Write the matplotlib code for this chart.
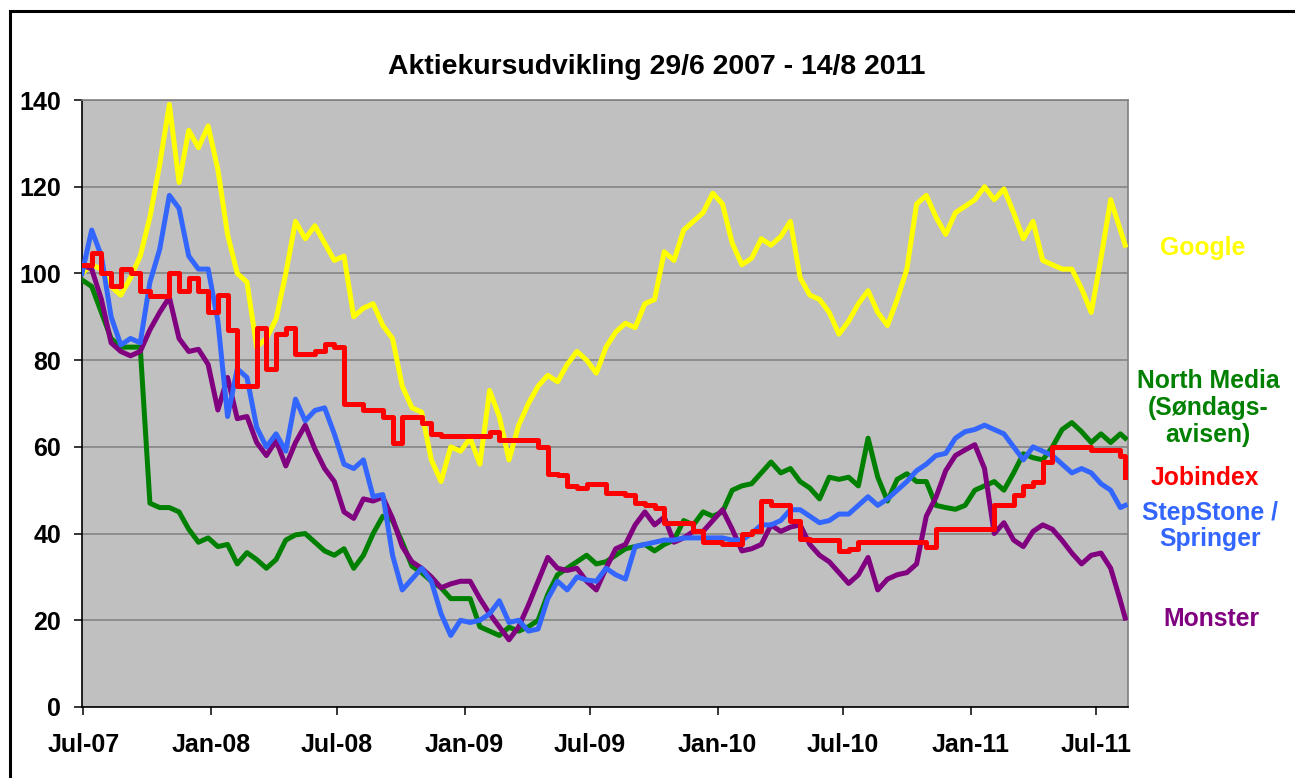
import matplotlib
matplotlib.use("Agg")
import matplotlib.pyplot as plt
import matplotlib.dates as mdates
import matplotlib.patches as patches
import pandas as pd

plt.rcParams['font.family'] = ['Liberation Sans', 'DejaVu Sans']
plt.rcParams['font.weight'] = 'bold'

# biweekly samples, 29/6 2007 -> 12/8 2011
dates = pd.date_range('2007-06-29', periods=108, freq='14D').append(pd.DatetimeIndex(['2011-08-12']))

google = [100, 102, 101, 97, 95, 99, 104, 113, 125, 139,
          121, 133, 129, 134, 124, 109, 100, 98, 83, 85,
          89.5, 100, 112, 108, 111, 107, 103, 104, 90, 92,
          93, 88, 85, 74, 69, 68, 57, 52, 60, 59,
          62, 56, 73, 67, 57, 65, 70, 74, 76.5, 75,
          79, 82, 80, 77, 83, 86.5, 88.5, 87.5, 93, 94,
          105, 103, 110, 112, 114, 118.5, 116, 107, 102, 103.5,
          108, 106.5, 108.5, 112, 99, 95, 94, 91, 86, 89,
          93, 96, 91, 88, 94, 101, 116, 118, 113, 109,
          114, 115.5, 117, 120, 117, 119.5, 114, 108, 112, 103,
          102, 101, 101, 96.5, 91, 103.5, 117, 110, 106.5]

north_media = [98.5, 97, 91, 85, 83, 83, 83, 47, 46, 46,
               45, 41, 38, 39, 37, 37.5, 33, 35.6, 34, 32,
               34, 38.5, 39.7, 40, 38, 36, 35, 36.5, 32, 35,
               40, 44, 43, 38, 32.5, 31, 29, 27.5, 25, 25,
               25, 18.5, 17.5, 16.5, 18.4, 17.5, 18.5, 20, 26, 30.5,
               32, 33.5, 35, 33, 33.5, 35, 36.5, 37, 37.5, 36,
               37.5, 38.5, 43, 42, 45, 44, 45, 50, 51, 51.5,
               54, 56.5, 54, 55, 52, 50.5, 48, 53, 52.5, 53,
               51, 62, 53, 47.5, 52.5, 53.8, 52, 52, 46.5, 46,
               45.6, 46.5, 50, 51, 52, 50, 54, 58.4, 57.5, 57,
               60, 64, 65.6, 63.5, 61, 63, 61, 63, 62]

jobindex = [102, 104.7, 100, 97, 101, 100, 96, 94.7, 94.7, 100,
            96, 99, 96, 91, 95, 87, 74, 74, 87.5, 78,
            86, 87.5, 81.5, 81.5, 82, 83.8, 83, 70, 70, 68.5,
            68.4, 67, 61, 67, 67, 65.6, 63, 62.5, 62.5, 62.5,
            62.5, 62.5, 63.5, 61.5, 61.5, 61.5, 61.5, 60, 53.8, 53.4,
            51, 50.6, 51.5, 51.5, 49.3, 49.3, 49, 47, 46.5, 46,
            42.5, 42.5, 42.5, 40.6, 38, 38, 37.5, 37.5, 40, 40.6,
            47.5, 46.5, 46.5, 43, 38.8, 38.5, 38.5, 38.5, 36, 36.5,
            38, 38, 38, 38, 38, 38, 38, 37, 41, 41,
            41, 41, 41, 41, 46.5, 46.5, 49, 51, 52, 56.5,
            60, 60, 60, 60, 59.3, 59.3, 59.3, 58, 53]

stepstone = [100, 110, 104, 90, 83.5, 85, 84, 98, 105.5, 118,
             115, 104, 101, 101, 89, 67, 78, 76, 64.5, 60,
             63, 59, 71, 66, 68.4, 69, 63, 56, 55, 57,
             48.5, 49, 35, 27, 29.5, 32, 29, 21.5, 16.5, 20,
             19.5, 20, 21.5, 24.5, 19.5, 20, 17.5, 18, 25, 29,
             27, 30, 29.3, 29, 32, 30.5, 29.5, 37, 37.5, 38,
             38.5, 38.5, 39, 39, 39, 39, 39, 38.5, 38.5, 40,
             42, 42, 43, 45.5, 45.5, 44, 42.5, 43, 44.5, 44.5,
             46.5, 48.5, 46.5, 48, 50, 52, 54.5, 56, 58, 58.5,
             62, 63.5, 64, 65, 64, 63, 60, 57, 60, 59,
             58, 56, 54, 55, 54, 51.5, 50, 46, 46.5]

monster = [102, 101, 94, 84, 82, 81, 82, 87, 91, 94.5,
           85, 82, 82.5, 79, 68.5, 76, 66.5, 67, 61, 58,
           61.5, 55.6, 61, 65, 59.5, 55, 52, 45, 43.5, 48,
           47.5, 48.4, 43.5, 37, 33.5, 32, 30, 27.5, 28.4, 29,
           29, 25, 21.5, 18.5, 15.5, 18.5, 23.5, 29, 34.5, 32,
           31.5, 32, 29, 27, 32, 36.5, 37.5, 42, 45, 42,
           43.8, 38, 39, 40.5, 40.5, 43, 45.5, 41, 36, 36.5,
           37.5, 42, 40.5, 41.5, 42, 37.5, 35, 33.5, 31, 28.5,
           30.5, 34.5, 27, 29.5, 30.5, 31, 33, 44, 48.4, 54.5,
           58, 59.3, 60.5, 55, 40, 42.5, 38.5, 37, 40.5, 42,
           41, 38.4, 35.5, 33, 35, 35.5, 32, 24.5, 20.5]

title = "Aktiekursudvikling 29/6 2007 - 14/8 2011"
tick_dates = pd.date_range('2007-07-01', '2011-07-01', freq='6MS')

fig = plt.figure(figsize=(12.95, 7.78), dpi=100)
ax = fig.add_axes([82/1295, 71/778, 1046/1295, 607/778])
ax.set_facecolor('#C0C0C0')

lw = 3.6
ax.plot(dates, google, color='#FFFF00', lw=lw, zorder=3)
ax.plot(dates, north_media, color='#008000', lw=lw, zorder=4)
ax.plot(dates, monster, color='#800080', lw=lw, zorder=5)
ax.plot(dates, stepstone, color='#3366FF', lw=lw, zorder=6)
ax.plot(dates, jobindex, color='#FF0000', lw=lw, zorder=7, drawstyle='steps-post')

ax.set_ylim(0, 140)
ax.set_yticks(range(0, 141, 20))
ax.set_xlim(pd.Timestamp('2007-06-29'), pd.Timestamp('2011-08-16'))
ax.set_xticks(tick_dates)
ax.xaxis.set_major_formatter(mdates.DateFormatter('%b-%y'))
ax.grid(axis='y', color='#808080', lw=1.1, zorder=1)
ax.set_axisbelow(True)

ax.tick_params(axis='both', direction='out', labelsize=18, colors='black', width=1.1)
ax.tick_params(axis='y', length=6, pad=9)
ax.tick_params(axis='x', length=6, pad=13)
for s in ['top', 'right']:
    ax.spines[s].set_color('#808080')
    ax.spines[s].set_linewidth(1.2)
for s in ['left', 'bottom']:
    ax.spines[s].set_color('black')
    ax.spines[s].set_linewidth(1.2)

fig.text(657/1295, 1 - 67/778, title, ha='center', va='center', fontsize=20.4, fontweight='bold')

# series names to the right of the plot
lx = 1208/1295
fig.text(1203/1295, 1 - 248/778, "Google", color='#FFFF00', ha='center', va='center', fontsize=17.8)
fig.text(lx, 1 - 408/778, "North Media\n(Søndags-\navisen)", color='#008000', ha='center', va='center',
         fontsize=17.8, linespacing=1.15)
fig.text(1205/1295, 1 - 478/778, "Jobindex", color='#FF0000', ha='center', va='center', fontsize=17.8)
fig.text(1210/1295, 1 - 526/778, "StepStone /\nSpringer", color='#3366FF', ha='center', va='center',
         fontsize=17.8, linespacing=1.15)
fig.text(1211/1295, 1 - 619/778, "Monster", color='#800080', ha='center', va='center', fontsize=17.8)

# outer frame of the chart
fig.patches.append(patches.Rectangle((10/1295, -0.05), 2, 1 - 11/778 + 0.05, transform=fig.transFigure,
                                     fill=False, edgecolor='black', lw=2.2))

fig.savefig('out.png', dpi=100)
